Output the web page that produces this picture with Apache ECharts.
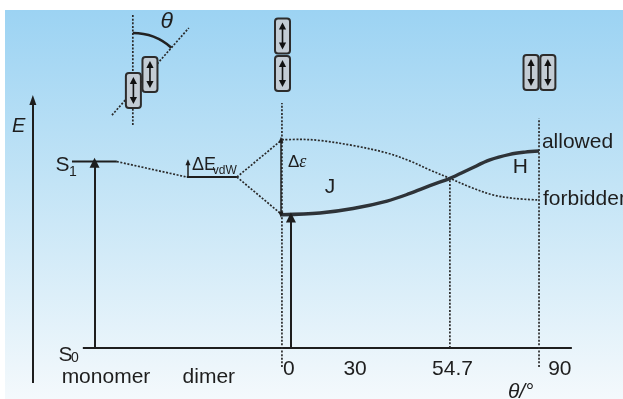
<!DOCTYPE html>
<html><head><meta charset="utf-8">
<script src="https://cdn.jsdelivr.net/npm/echarts@6/dist/echarts.min.js"></script>
<style>html,body{margin:0;padding:0;background:#fff}#c{width:623px;height:399px}</style>
</head><body><div id="c"></div>
<script>
// ---- data (diagram units: x = θ-position, y = energy, S0 = 0, S1 = 100) ----
const thetaTickLabels = ['0', '30', '54.7', '90'];
const thetaTickPos = [2.45, 25.6, 59.7, 97.3];
const stateLabels = ['monomer', 'dimer'];
const statePos = [-61.6, -25.6];

const S0 = 0, S1 = 100, dimerE = 91.7, jLow = 71.5, jHigh = 111.7;
const monomerX = -65.6, monomerLevelX = [-73.5, -57.8];
const dimerLevelX = [-33.3, -15.75], vdwArrowX = -32.9;
const thetaZero = 0, thetaNinety = 90, thetaMagic = 58.8, magicE = 91.0;
const baselineX = [-69.7, 101.5];
const energyAxisX = -87.2, energyAxisE = [-18.8, 133.0];
const jArrowX = 3.15, jArrowTop = 70.0, splitArrowX = -0.35;
const refLineBottom = -10.2, refLineTopZero = 131.4, refLineTopNinety = 123.3;

const allowedCurve = [[0, 71.5], [13.3, 72.4], [24.9, 74.8], [36.8, 78.8], [44.8, 82.9], [51.8, 87.1],
  [58.8, 91.0], [65.8, 96.0], [72.8, 100.9], [79.8, 103.9], [85.1, 105.1], [90, 105.7]];
const forbiddenCurve = [[0, 111.7], [6.3, 111.9], [13.3, 111.3], [24.9, 108.6], [36.8, 104.6], [44.8, 100.3],
  [51.8, 95.5], [58.8, 91.0], [65.8, 86.4], [73.9, 82.1], [81.6, 80.2], [90, 79.4]];

// dimer pictograms (centres)
const pictograms = [[-52.0, 138.1], [-46.2, 146.7], [0.2, 167.4], [0.2, 147.2], [87.2, 147.8], [93.1, 147.8]];
const angleVertical = [[-52.2, 178.6], [-52.2, 119.6]];
const angleSlant = [[-59.5, 124.9], [-32.6, 171.7]];
const angleArc = [[-52.2, 137.85, -52.2, 168.98, -38.5, 161.5]];

// text annotations
const annotations = [
  { p: [-92.2, 119.1], t: 'E', size: 20, italic: true, align: 'center' },
  { p: [-76.8, 98.1], t: 'S', size: 21, align: 'center' },
  { p: [-73.2, 94.4], t: '1', size: 14, align: 'center' },
  { p: [-75.8, -3.8], t: 'S', size: 21, align: 'center' },
  { p: [-72.5, -5.7], t: '0', size: 14, align: 'center' },
  { p: [-31.5, 98.1], t: 'ΔE', size: 18, align: 'left' },
  { p: [-24.2, 95.2], t: 'vdW', size: 12, align: 'left' },
  { p: [2.1, 99.6], t: '{u|Δ}{i|ε}', size: 17, align: 'left' },
  { p: [16.8, 86.4], t: 'J', size: 21, align: 'center' },
  { p: [83.5, 96.8], t: 'H', size: 21, align: 'center' },
  { p: [91.0, 110.5], t: 'allowed', size: 21, align: 'left' },
  { p: [91.4, 79.9], t: 'forbidden', size: 21, align: 'left' },
  { p: [-40.3, 174.9], t: 'θ', size: 23, italic: true, align: 'center' },
  { p: [79.1, -23.6], t: 'θ/°', size: 21, italic: true, align: 'left' }
];

// ---- chart ----
const FONT = '"Liberation Sans", Arial, sans-serif';
const INK = '#1e1e1e';
const axisLabelPos = statePos.concat(thetaTickPos);
const axisLabelText = stateLabels.concat(thetaTickLabels);

function seg(points, style) {
  return {
    type: 'line', data: points, symbol: 'none', silent: true, animation: false,
    lineStyle: Object.assign({ color: INK, width: 2 }, style)
  };
}
const DOT = { type: [2, 1.6], width: 1.7, color: '#2a2a2a' };

function arrow(x1, y1, x2, y2, headSize, both, width) {
  return [
    { coord: [x1, y1], symbol: both ? 'triangle' : 'none', symbolSize: headSize },
    { coord: [x2, y2], symbol: 'triangle', symbolSize: headSize, lineStyle: { width: width || 2, color: INK, type: 'solid' } }
  ];
}

function renderPicto(params, api) {
  const p = api.coord([api.value(0), api.value(1)]);
  const w = 15, h = 35, cx = p[0], cy = p[1];
  const top = cy - h / 2, bot = cy + h / 2;
  return {
    type: 'group', children: [
      { type: 'rect', shape: { x: cx - w / 2, y: top, width: w, height: h, r: 3 }, style: { fill: '#c3ccd4', stroke: '#2c2c2c', lineWidth: 2 } },
      { type: 'line', shape: { x1: cx, y1: top + 9, x2: cx, y2: bot - 9 }, style: { stroke: '#111', lineWidth: 1.6 } },
      { type: 'polygon', shape: { points: [[cx, top + 4], [cx - 3.6, top + 11], [cx + 3.6, top + 11]] }, style: { fill: '#111' } },
      { type: 'polygon', shape: { points: [[cx, bot - 4], [cx - 3.6, bot - 11], [cx + 3.6, bot - 11]] }, style: { fill: '#111' } }
    ]
  };
}
function renderArc(params, api) {
  const c = api.coord([api.value(0), api.value(1)]);
  const s = api.coord([api.value(2), api.value(3)]);
  const e = api.coord([api.value(4), api.value(5)]);
  const r = Math.hypot(s[0] - c[0], s[1] - c[1]);
  return {
    type: 'arc',
    shape: { cx: c[0], cy: c[1], r: r, startAngle: Math.atan2(s[1] - c[1], s[0] - c[0]), endAngle: Math.atan2(e[1] - c[1], e[0] - c[0]), clockwise: true },
    style: { stroke: '#222', lineWidth: 2.6, fill: 'none' }
  };
}

const chart = echarts.init(document.getElementById('c'), null, { renderer: 'canvas' });
chart.setOption({
  animation: false,
  backgroundColor: '#ffffff',
  graphic: [{
    type: 'rect', left: 5, top: 10, z: -10, silent: true,
    shape: { width: 618, height: 389 },
    style: { fill: new echarts.graphic.LinearGradient(0, 0, 0, 1, [
      { offset: 0, color: '#9cd3f3' }, { offset: 0.45, color: '#c3e4f6' }, { offset: 1, color: '#f4f9fc' }]) }
  }],
  grid: { left: 0, right: 0, top: 0, bottom: 0, containLabel: false, outerBoundsMode: 'none' },
  xAxis: {
    type: 'value', min: -98.7, max: 119.4, position: 'bottom', offset: -51,
    axisLine: { show: false, onZero: false }, axisTick: { show: false }, splitLine: { show: false },
    axisLabel: {
      customValues: axisLabelPos, margin: 11,
      formatter: function (v) {
        const i = axisLabelPos.findIndex(function (p) { return Math.abs(p - v) < 1e-6; });
        if (i < 0) return '';
        return (i < stateLabels.length ? '{w|' : '{n|') + axisLabelText[i] + '}';
      },
      rich: {
        w: { fontSize: 21, fontFamily: FONT, color: INK, padding: [8, 0, 0, 0] },
        n: { fontSize: 21, fontFamily: FONT, color: INK }
      }
    }
  },
  yAxis: { type: 'value', min: -27.4, max: 186.7, show: false },
  series: [
    seg([[monomerLevelX[0], S1], [monomerLevelX[1], S1]]),
    seg([[dimerLevelX[0], dimerE], [dimerLevelX[1], dimerE]]),
    seg([[baselineX[0], S0], [baselineX[1], S0]]),
    seg([[monomerLevelX[1], S1], [dimerLevelX[0], dimerE]], DOT),
    seg([[dimerLevelX[1], dimerE], [thetaZero, jHigh]], DOT),
    seg([[dimerLevelX[1], dimerE], [thetaZero, jLow]], DOT),
    seg([[thetaZero, refLineBottom], [thetaZero, refLineTopZero]], DOT),
    seg([[thetaNinety, refLineBottom], [thetaNinety, refLineTopNinety]], DOT),
    seg([[thetaMagic, S0], [thetaMagic, magicE]], DOT),
    seg(angleVertical, DOT),
    seg(angleSlant, DOT),
    Object.assign(seg(forbiddenCurve, DOT), { smooth: 0.35 }),
    Object.assign(seg(allowedCurve, { width: 3.4, color: '#2e3338' }), { smooth: 0.35 }),
    {
      type: 'line', data: [], silent: true,
      markLine: {
        silent: true, animation: false, label: { show: false },
        lineStyle: { color: INK, width: 2, type: 'solid' },
        data: [
          arrow(energyAxisX, energyAxisE[0], energyAxisX, energyAxisE[1], [7, 10], false, 2),
          arrow(monomerX, S0, monomerX, S1 - 0.6, [10, 10], false, 2),
          arrow(jArrowX, S0, jArrowX, jArrowTop, [10, 10], false, 2),
          arrow(vdwArrowX, dimerE, vdwArrowX, 99.7, [5, 6], false, 1.5),
          arrow(splitArrowX, jLow, splitArrowX, jHigh, [5, 6], true, 1.5)
        ]
      }
    },
    { type: 'custom', renderItem: renderArc, data: angleArc, silent: true },
    { type: 'custom', renderItem: renderPicto, data: pictograms, silent: true, z: 5 },
    {
      type: 'scatter', symbolSize: 0, silent: true, z: 6,
      data: annotations.map(function (a) {
        return {
          value: a.p,
          label: {
            show: true, position: 'inside', formatter: a.t, align: a.align, verticalAlign: 'middle',
            fontSize: a.size, fontStyle: a.italic ? 'italic' : 'normal', fontFamily: FONT, color: INK,
            textBorderWidth: 0, textBorderColor: 'transparent', opacity: 1,
            rich: {
              u: { fontSize: a.size, fontFamily: FONT, color: INK, textBorderWidth: 0 },
              i: { fontSize: a.size + 1, fontFamily: '"Liberation Serif", serif', fontStyle: 'italic', color: INK, textBorderWidth: 0 }
            }
          }
        };
      })
    }
  ]
});
</script></body></html>
